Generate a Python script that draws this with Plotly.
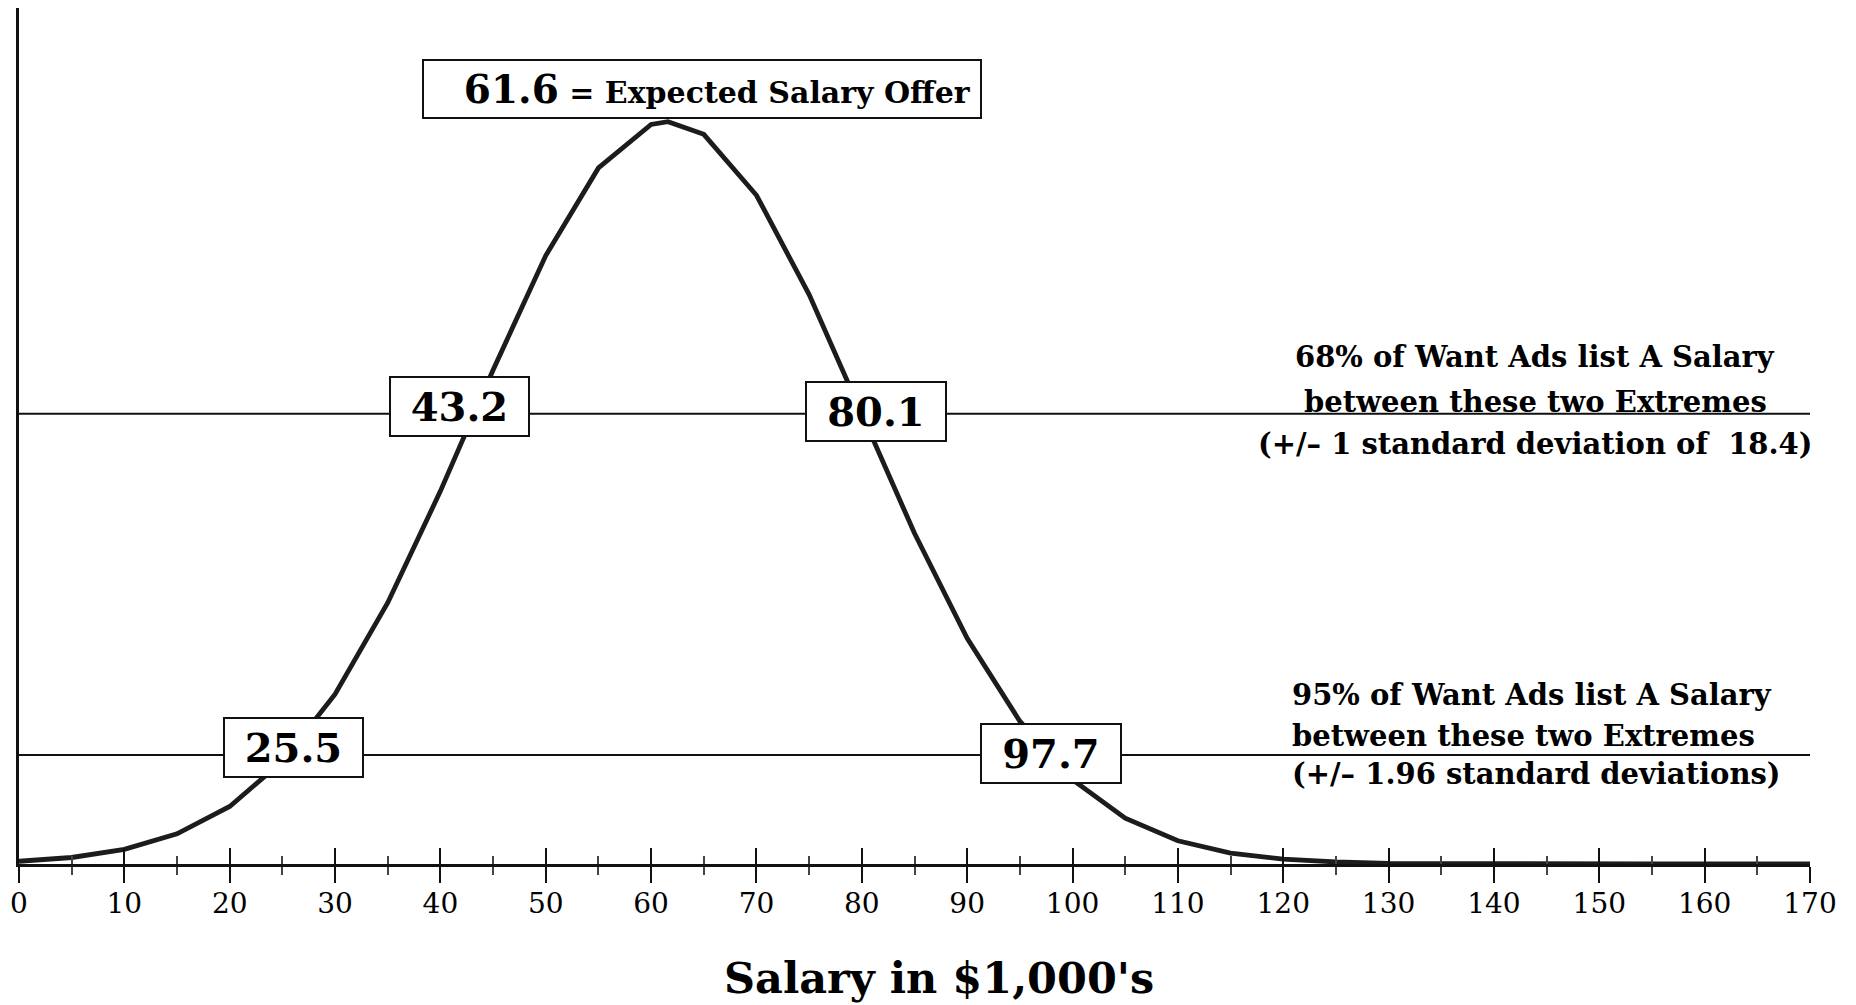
import plotly.graph_objects as go

# ---- data ----
salary_k = [0, 5, 10, 15, 20, 25, 30, 35, 40, 45, 50, 55, 60, 61.6, 65, 70, 75, 80,
            85, 90, 95, 100, 105, 110, 115, 120, 125, 130, 135, 140, 145, 150, 155,
            160, 165, 170]
share_of_ads = [0.08, 0.19, 0.43, 0.88, 1.68, 3.00, 4.96, 7.63, 10.89, 14.43, 17.77,
                20.33, 21.60, 21.68, 21.31, 19.53, 16.63, 13.15, 9.66, 6.59, 4.17,
                2.46, 1.34, 0.68, 0.32, 0.14, 0.06, 0.02, 0.01, 0.0, 0.0, 0.0, 0.0,
                0.0, 0.0, 0.0]

expected_offer = 61.6
expected_level = 21.68
band_levels = [13.15, 3.18]            # curve height at +/-1 sd and +/-1.96 sd
band_low = ["43.2", "25.5"]
band_high = ["80.1", "97.7"]
band_low_x = [43.2, 25.5]
band_high_x = [80.1, 97.7]

band_text_68 = ["68% of Want Ads list A Salary",
                "between these two Extremes",
                "(+/\u2013 1 standard deviation of  18.4)"]
band_text_95 = ["95% of Want Ads list A Salary",
                "between these two Extremes",
                "(+/\u2013 1.96 standard deviations)"]

tick_vals = list(range(0, 171, 10))
tick_text = [str(v) for v in tick_vals]
x_title = "Salary in $1,000's"

FONT = "DejaVu Serif"
INK = "#111111"

fig = go.Figure()

# horizontal band lines (on overlay axis so that it renders)
for lvl in band_levels:
    fig.add_trace(go.Scatter(x=[salary_k[0], salary_k[-1]], y=[lvl, lvl], mode="lines",
                             line=dict(color=INK, width=2), xaxis="x2", yaxis="y",
                             hoverinfo="skip", showlegend=False))

fig.add_trace(go.Scatter(x=salary_k, y=share_of_ads, mode="lines",
                         line=dict(color="#1c1c1c", width=4.8),
                         showlegend=False, hoverinfo="x+y"))

annotations = []
box = dict(bordercolor=INK, borderwidth=2, bgcolor="white", borderpad=0,
           xref="x", yref="y", showarrow=False, valign="middle")

# top box
annotations.append(dict(
    x=expected_offer, y=expected_level, xshift=34, yshift=33,
    text=("<b><span style='font-size:39px'>%s</span> "
          "<span style='font-size:30px'>= Expected Salary Offer&nbsp;</span></b>" % expected_offer),
    width=556, height=56, align="right", font=dict(family=FONT, size=30, color="black"), **box))

low_shift = [(-15, 7.5), (6, 7.5)]
high_shift = [(13, 2.5), (3, 1.5)]
for i, lvl in enumerate(band_levels):
    annotations.append(dict(x=band_low_x[i], y=lvl, xshift=low_shift[i][0], yshift=low_shift[i][1],
                            text="<b>%s</b>" % band_low[i], width=137, height=57, align="center",
                            font=dict(family=FONT, size=40, color="black"), **box))
    annotations.append(dict(x=band_high_x[i], y=lvl, xshift=high_shift[i][0], yshift=high_shift[i][1],
                            text="<b>%s</b>" % band_high[i], width=138, height=57, align="center",
                            font=dict(family=FONT, size=40, color="black"), **box))

# right-hand explanations
shifts_68 = [57, 12, -30]
for t, s in zip(band_text_68, shifts_68):
    annotations.append(dict(x=143.9, y=band_levels[0], xref="x", yref="y", yshift=s,
                            xanchor="center", yanchor="middle", showarrow=False,
                            text="<b>%s</b>" % t, font=dict(family=FONT, size=29, color="black")))
shifts_95 = [60, 19, -19]
for t, s in zip(band_text_95, shifts_95):
    annotations.append(dict(x=120.6, y=band_levels[1], xref="x", yref="y", yshift=s,
                            xanchor="left", yanchor="middle", showarrow=False,
                            text="<b>%s</b>" % t, font=dict(family=FONT, size=29, color="black")))

# axis title
annotations.append(dict(x=0.5137, y=-0.133, xref="paper", yref="paper", showarrow=False,
                        xanchor="center", yanchor="middle", text="<b>%s</b>" % x_title,
                        font=dict(family=FONT, size=43, color="black")))

fig.update_layout(
    width=1856, height=1005,
    margin=dict(l=19, r=46, t=8, b=141),
    paper_bgcolor="white", plot_bgcolor="white",
    showlegend=False,
    annotations=annotations,
    xaxis=dict(range=[0, 170], tickmode="array", tickvals=tick_vals, ticktext=tick_text,
               ticks="outside", ticklen=16, tickwidth=2, tickcolor=INK, ticklabelstandoff=-4,
               minor=dict(dtick=5, ticks="outside", ticklen=8, tickwidth=1.5, tickcolor="#444"),
               showline=True, linecolor=INK, linewidth=3, showgrid=False, zeroline=False,
               tickfont=dict(family=FONT, size=28, color="black")),
    xaxis2=dict(range=[0, 170], overlaying="x", anchor="y", side="bottom",
                tickmode="array", tickvals=tick_vals, ticks="inside", ticklen=16, tickwidth=2,
                tickcolor=INK,
                minor=dict(dtick=5, ticks="inside", ticklen=8, tickwidth=1.5, tickcolor="#444"),
                showticklabels=False, showline=False, showgrid=False, zeroline=False),
    yaxis=dict(range=[0, 25], showline=True, linecolor=INK, linewidth=3, showgrid=False,
               zeroline=False, showticklabels=False, ticks=""),
)

fig.write_html("out.html", config={"displayModeBar": False},
               post_script="document.body.style.margin='0';document.body.style.overflow='hidden';")
